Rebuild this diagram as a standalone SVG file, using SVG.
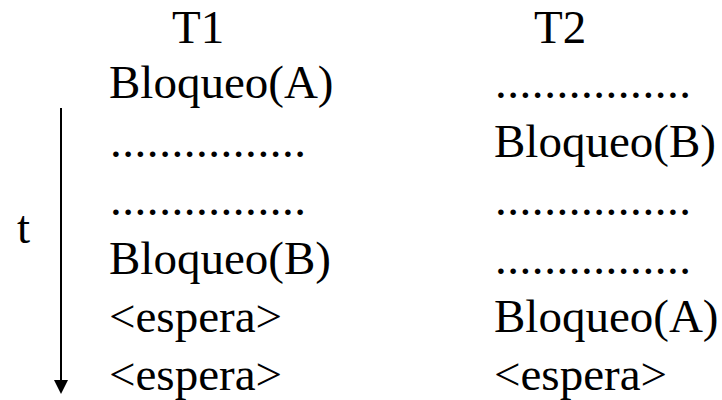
<svg xmlns="http://www.w3.org/2000/svg" width="722" height="400" viewBox="0 0 722 400">
<style>
text{font-family:"Liberation Serif","Times New Roman",serif;font-size:47px;fill:#000}
</style>
<rect width="722" height="400" fill="#fff"/>
<g id="connectors">
<line x1="61" y1="108" x2="61" y2="381" stroke="#000" stroke-width="2"/>
<path d="M54,380 L68,380 L61,394 z" fill="#000"/>
</g>
<g id="axis-label"><text x="17" y="243">t</text></g>
<g id="T1">
<text x="172" y="43">T1</text>
<text x="109" y="98">Bloqueo(A)</text>
<text x="110" y="157" textLength="196">................</text>
<text x="110" y="215" textLength="196">................</text>
<text x="109" y="274">Bloqueo(B)</text>
<text x="109" y="332">&lt;espera&gt;</text>
<text x="109" y="390">&lt;espera&gt;</text>
</g>
<g id="T2">
<text x="534" y="43">T2</text>
<text x="495" y="98" textLength="196">................</text>
<text x="494" y="157">Bloqueo(B)</text>
<text x="495" y="215" textLength="196">................</text>
<text x="495" y="274" textLength="196">................</text>
<text x="494" y="332">Bloqueo(A)</text>
<text x="494" y="390">&lt;espera&gt;</text>
</g>
</svg>
